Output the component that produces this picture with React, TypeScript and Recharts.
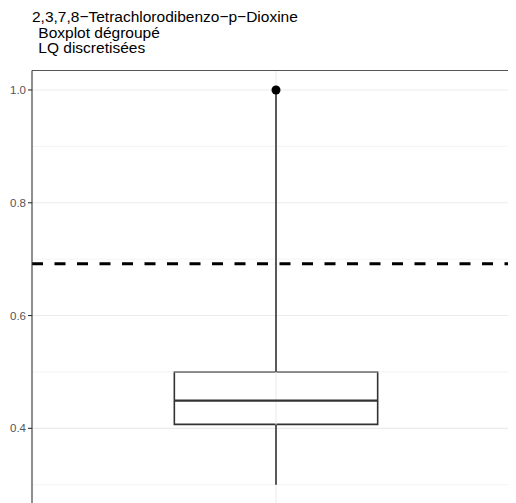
import React from 'react';
import {
  ComposedChart,
  XAxis,
  YAxis,
  ZAxis,
  CartesianGrid,
  ReferenceLine,
  ReferenceArea,
  Scatter,
} from 'recharts';

// ---- data ----
const titleLines = ['2,3,7,8\u2212Tetrachlorodibenzo\u2212p\u2212Dioxine', ' Boxplot dégroupé', ' LQ discretisées'];
const titleTops = [1.1, 16.7, 32.3];
const categoryPositions = [1];
const whiskerLow = [0.3];
const q1 = [0.407];
const median = [0.449];
const q3 = [0.5];
const whiskerHigh = [1.0];
const outliers = [{ x: 1, y: 1.0 }];
const threshold = 0.692;
const yTicks = [0.4, 0.6, 0.8, 1.0];
const yMinorTicks = [0.3, 0.5, 0.7, 0.9];
const yDomain: [number, number] = [0.2655, 1.0345];
const xDomain: [number, number] = [0.4, 1.6];
const boxHalfWidth = 0.25;

const FONT = '"Liberation Sans", Arial, sans-serif';

export default function App() {
  const i = 0;
  const cx = categoryPositions[i];
  return (
    <div style={{ position: 'relative', width: 512, height: 510, fontFamily: FONT }}>
      <style>{`body{overflow:hidden}`}</style>
      <ComposedChart
        width={512}
        height={510}
        margin={{ top: 62.5, right: 0, bottom: 13.8, left: 0 }}
        data={outliers}
      >
        <CartesianGrid horizontal vertical={false} stroke="#ebebeb" strokeWidth={1.1} />
        {yMinorTicks.map((v) => (
          <ReferenceLine key={'m' + v} y={v} stroke="#ebebeb" strokeWidth={0.6} />
        ))}
        <ReferenceLine x={cx} stroke="#ebebeb" strokeWidth={1.1} />
        <XAxis type="number" dataKey="x" domain={xDomain} hide allowDataOverflow />
        <YAxis
          type="number"
          dataKey="y"
          domain={yDomain}
          ticks={yTicks}
          allowDataOverflow
          width={24}
          tickFormatter={(v: number) => v.toFixed(1)}
          tick={{ fill: '#555', fontSize: 11.5, fontFamily: FONT }}
          axisLine={{ stroke: '#333', strokeWidth: 1.1 }}
          tickLine={{ stroke: '#333', strokeWidth: 1.1 }}
          tickSize={4}
        />
        <ZAxis range={[113, 113]} />
        <ReferenceLine y={yDomain[1]} stroke="#555" strokeWidth={1.2} ifOverflow="visible" />
        <ReferenceLine
          segment={[
            { x: cx, y: whiskerLow[i] },
            { x: cx, y: q1[i] },
          ]}
          stroke="#333"
          strokeWidth={1.6}
        />
        <ReferenceLine
          segment={[
            { x: cx, y: q3[i] },
            { x: cx, y: whiskerHigh[i] },
          ]}
          stroke="#333"
          strokeWidth={1.6}
        />
        <ReferenceArea
          x1={cx - boxHalfWidth}
          x2={cx + boxHalfWidth}
          y1={q1[i]}
          y2={q3[i]}
          fill="#ffffff"
          fillOpacity={1}
          stroke="#333"
          strokeWidth={1.6}
        />
        <ReferenceLine
          segment={[
            { x: cx - boxHalfWidth, y: median[i] },
            { x: cx + boxHalfWidth, y: median[i] },
          ]}
          stroke="#333"
          strokeWidth={2.2}
        />
        <ReferenceLine y={threshold} stroke="#000" strokeWidth={3} strokeDasharray="11 11.5" />
        <Scatter data={outliers} fill="#000" isAnimationActive={false} />
      </ComposedChart>
      {titleLines.map((t, k) => (
        <div
          key={t}
          style={{
            position: 'absolute',
            left: 24,
            top: titleTops[k],
            paddingLeft: k === 0 ? 0 : 2,
            fontSize: 15.5,
            lineHeight: '15.6px',
            whiteSpace: 'pre',
            color: '#000',
            zIndex: 2,
          }}
        >
          {t}
        </div>
      ))}
    </div>
  );
}
